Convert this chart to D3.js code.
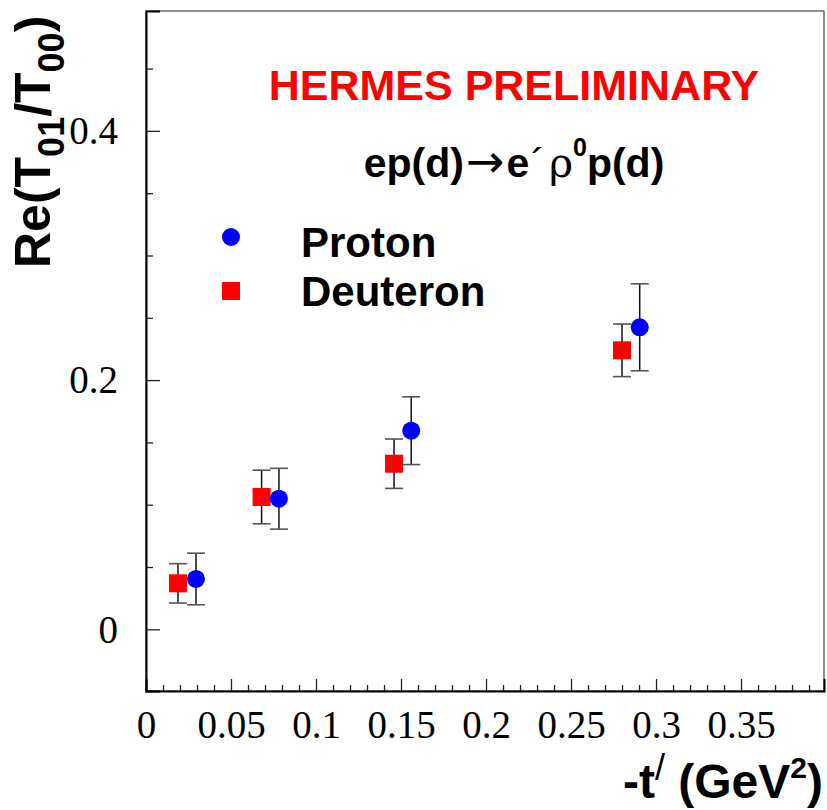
<!DOCTYPE html>
<html lang="en">
<head>
  <meta charset="UTF-8">
  <title>Re(T01/T00) vs -t'</title>
  <script src="https://d3js.org/d3.v7.min.js"></script>
  <style>
    body { margin: 0; padding: 0; background: #fff; }
    svg { display: block; }
    .tick text { font-family: 'Liberation Serif', 'Times New Roman', serif; font-size: 39px; fill: #000; }
    .lbl { font-family: 'Liberation Sans', Arial, sans-serif; font-weight: bold; }
  </style>
</head>
<body>
  <svg id="chart" width="827" height="810"></svg>
  <script>
    // values
    var protonT   = [0.0294, 0.0782, 0.156, 0.2904];
    var protonVal = [0.0404, 0.1048, 0.1594, 0.2424];
    var protonErr = [0.0207, 0.0244, 0.0272, 0.0349];

    var deutT   = [0.0188, 0.068, 0.1459, 0.280];
    var deutVal = [0.0369, 0.1062, 0.1329, 0.2239];
    var deutErr = [0.0158, 0.0215, 0.0198, 0.0211];

    var xMajor = [0, 0.05, 0.1, 0.15, 0.2, 0.25, 0.3, 0.35];
    var yMajor = [0, 0.2, 0.4];

    var pLeft = 146, pRight = 824, pTop = 11, pBottom = 691;
    var svg = d3.select('#chart');

    var x = d3.scaleLinear().domain([0, 0.3988]).range([pLeft, pRight]);
    var y = d3.scaleLinear().domain([-0.0495, 0.4962]).range([pBottom, pTop]);

    // frame
    svg.append('rect')
      .attr('x', pLeft).attr('y', pTop)
      .attr('width', pRight - pLeft).attr('height', pBottom - pTop)
      .attr('fill', 'none').attr('stroke', '#444').attr('stroke-width', 1.2);

    // minor ticks
    var xMinor = d3.range(1, 40).map(function(i) { return i / 100; })
      .filter(function(v) { return Math.round(v * 100) % 5 !== 0; });
    var yMinor = [0.05, 0.1, 0.15, 0.25, 0.3, 0.35, 0.45];

    svg.append('g')
      .attr('transform', 'translate(0,' + pBottom + ')')
      .call(d3.axisBottom(x).tickValues(xMinor).tickSize(-6).tickFormat(''))
      .call(function(g) { g.select('.domain').remove(); });
    svg.append('g')
      .attr('transform', 'translate(' + pLeft + ',0)')
      .call(d3.axisLeft(y).tickValues(yMinor).tickSize(-7).tickFormat(''))
      .call(function(g) { g.select('.domain').remove(); });

    // major ticks + labels
    svg.append('g')
      .attr('transform', 'translate(0,' + pBottom + ')')
      .call(d3.axisBottom(x).tickValues(xMajor).tickSize(-12).tickPadding(20)
        .tickFormat(function(d) { return d === 0 ? '0' : String(+d.toFixed(2)); }))
      .call(function(g) {
        g.select('.domain').attr('stroke', '#000').attr('stroke-width', 2);
        g.selectAll('.tick text').attr('dy', '0.35em').attr('y', 33);
      });
    svg.append('g')
      .attr('transform', 'translate(' + pLeft + ',0)')
      .call(d3.axisLeft(y).tickValues(yMajor).tickSize(-14).tickPadding(28)
        .tickFormat(function(d) { return d === 0 ? '0' : d.toFixed(1); }))
      .call(function(g) {
        g.select('.domain').attr('stroke', '#000').attr('stroke-width', 2);
        g.selectAll('.tick text').attr('dy', '0.33em');
      });

    svg.selectAll('.tick line').attr('stroke', '#222').attr('stroke-width', 1.3);

    // error bars + markers
    function drawSeries(ts, vals, errs, kind, color) {
      var data = ts.map(function(t, i) { return {t: t, v: vals[i], e: errs[i]}; });
      var g = svg.append('g');
      g.selectAll('line.err').data(data).enter().append('line')
        .attr('x1', function(d) { return x(d.t); })
        .attr('x2', function(d) { return x(d.t); })
        .attr('y1', function(d) { return y(d.v - d.e); })
        .attr('y2', function(d) { return y(d.v + d.e); })
        .attr('stroke', '#111').attr('stroke-width', 1.5);
      [-1, 1].forEach(function(s) {
        g.selectAll(null).data(data).enter().append('line')
          .attr('x1', function(d) { return x(d.t) - 9; })
          .attr('x2', function(d) { return x(d.t) + 9; })
          .attr('y1', function(d) { return y(d.v + s * d.e); })
          .attr('y2', function(d) { return y(d.v + s * d.e); })
          .attr('stroke', '#555').attr('stroke-width', 1.6);
      });
      if (kind === 'circle') {
        g.selectAll('circle').data(data).enter().append('circle')
          .attr('cx', function(d) { return x(d.t); })
          .attr('cy', function(d) { return y(d.v); })
          .attr('r', 9).attr('fill', color);
      } else {
        g.selectAll('rect').data(data).enter().append('rect')
          .attr('x', function(d) { return x(d.t) - 9; })
          .attr('y', function(d) { return y(d.v) - 9; })
          .attr('width', 18).attr('height', 18).attr('fill', color);
      }
    }
    drawSeries(deutT, deutVal, deutErr, 'square', '#ff0000');
    drawSeries(protonT, protonVal, protonErr, 'circle', '#0000ff');

    // legend
    svg.append('circle').attr('cx', 231).attr('cy', 237).attr('r', 9).attr('fill', '#0000ff');
    svg.append('rect').attr('x', 222).attr('y', 282).attr('width', 18).attr('height', 18).attr('fill', '#ff0000');
    svg.append('text').attr('class', 'lbl').attr('x', 301).attr('y', 257)
      .attr('font-size', 42).text('Proton');
    svg.append('text').attr('class', 'lbl').attr('x', 301).attr('y', 306)
      .attr('font-size', 42).text('Deuteron');

    // annotations
    svg.append('text').attr('class', 'lbl').attr('x', 514).attr('y', 100)
      .attr('text-anchor', 'middle').attr('font-size', 43).attr('fill', '#ff0000')
      .text('HERMES PRELIMINARY');

    var eq = svg.append('text').attr('class', 'lbl').attr('x', 514).attr('y', 177)
      .attr('text-anchor', 'middle').attr('font-size', 41);
    eq.append('tspan').text('ep(d)');
    eq.append('tspan').attr('font-family', "'DejaVu Sans', sans-serif").attr('font-weight', 'normal')
      .attr('font-size', 46).attr('dx', 2).text('\u2192');
    eq.append('tspan').attr('dx', 2).text('e');
    eq.append('tspan').attr('font-weight', 'normal').attr('dx', 2).text('\u00b4');
    eq.append('tspan').attr('font-weight', 'normal').attr('dx', 4)
      .attr('font-family', "'DejaVu Serif', serif").text('\u03c1');
    eq.append('tspan').attr('font-size', 25).attr('dy', -21).text('0');
    eq.append('tspan').attr('dy', 21).text('p(d)');

    // axis titles
    var xt = svg.append('text').attr('class', 'lbl').attr('x', 823).attr('y', 798)
      .attr('text-anchor', 'end').attr('font-size', 48);
    xt.append('tspan').text('-t');
    xt.append('tspan').attr('font-weight', 'normal').attr('font-size', 36).attr('dy', -18).text('/');
    xt.append('tspan').attr('dy', 18).text(' (GeV');
    xt.append('tspan').attr('font-size', 30).attr('dy', -20).text('2');
    xt.append('tspan').attr('dy', 20).text(')');

    var yt = svg.append('text').attr('class', 'lbl')
      .attr('transform', 'translate(50,268) rotate(-90)')
      .attr('font-size', 50);
    yt.append('tspan').text('Re(T');
    yt.append('tspan').attr('font-size', 36).attr('dy', 14).text('01');
    yt.append('tspan').attr('dy', -14).text('/T');
    yt.append('tspan').attr('font-size', 36).attr('dy', 14).text('00');
    yt.append('tspan').attr('dy', -14).text(')');
  </script>
</body>
</html>
